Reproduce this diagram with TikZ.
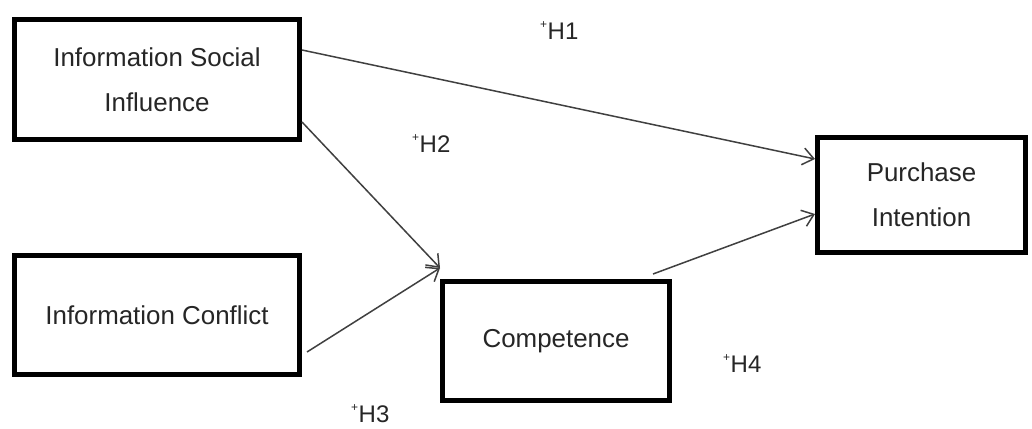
\documentclass[tikz,border=0pt]{standalone}
\usepackage{fontspec}
\setmainfont{Liberation Sans}
\usetikzlibrary{arrows.meta}
\newcommand\hyplabel[1]{\raisebox{11pt}{\fontsize{12}{12}\selectfont +}\kern0.5pt#1}
\begin{document}
\begin{tikzpicture}[x=1pt,y=-1pt,
  box/.style={draw=black,line width=5pt,rectangle,inner sep=0pt,align=center,
    text=black!85,font=\fontsize{25.9}{45}\selectfont},
  link/.style={draw=black!75,line width=1.5pt,-{Straight Barb[length=11pt,width=17pt,line width=1.5pt]}},
  hyp/.style={anchor=base west,inner sep=0pt,text=black!85,font=\fontsize{24}{24}\selectfont}]
\useasboundingbox (0,0) rectangle (1032,428);
\fill[white] (0,0) rectangle (1032,428);
\node[box,minimum width=285pt,minimum height=120pt] (isi) at (157,79.5) {Information Social\\Influence};
\node[box,minimum width=285pt,minimum height=119pt] (ic) at (157,315) {Information Conflict};
\node[box,minimum width=227pt,minimum height=119pt] (comp) at (556,341) {Competence};
\node[box,minimum width=208pt,minimum height=115pt] (pi) at (921.5,195) {Purchase\\Intention};
\coordinate (s1) at (302,50);
\coordinate (t1) at (815,159);
\coordinate (s2) at (302,122);
\coordinate (t2) at (440,268);
\coordinate (s3) at (307,352);
\coordinate (s4) at (653,274);
\coordinate (t4) at (815,214);
\draw[link] (s1) -- (t1);
\draw[link] (s2) -- (t2);
\draw[link] (s3) -- (t2);
\draw[link] (s4) -- (t4);
\node[hyp] (h1) at (540,40) {\hyplabel{H1}};
\node[hyp] (h2) at (412,152) {\hyplabel{H2}};
\node[hyp] (h3) at (351,422) {\hyplabel{H3}};
\node[hyp] (h4) at (723,372) {\hyplabel{H4}};
\end{tikzpicture}
\end{document}
